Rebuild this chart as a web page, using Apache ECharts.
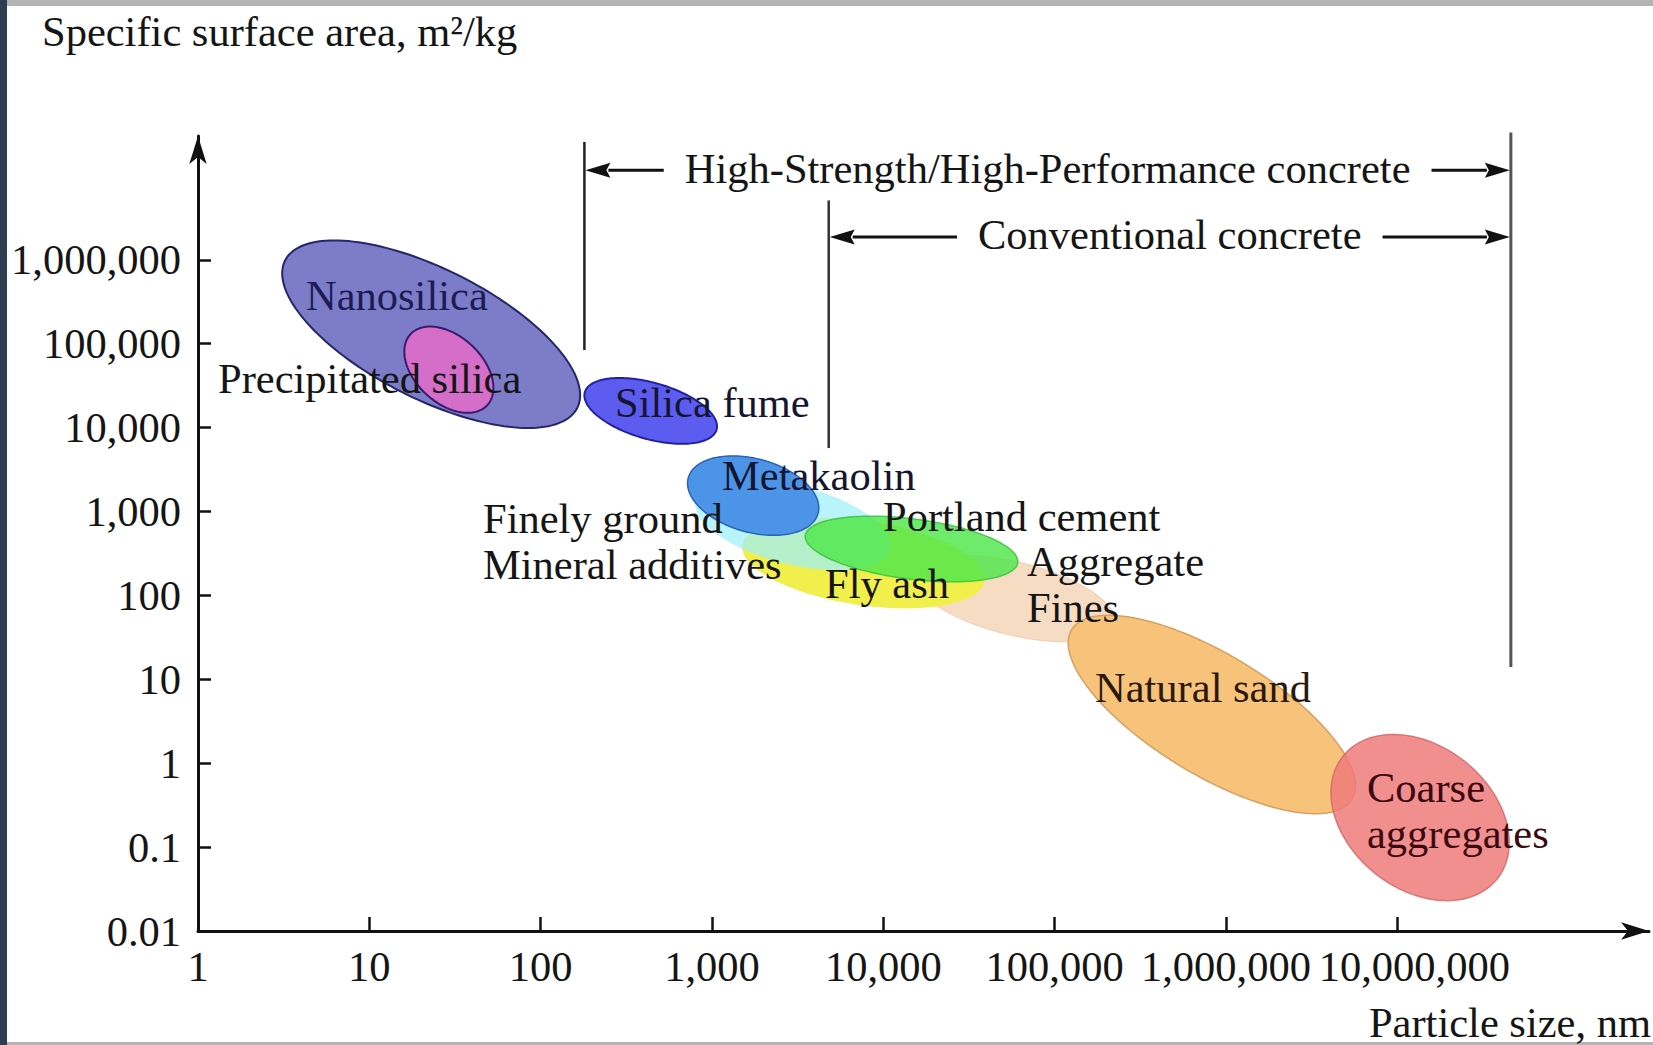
<!DOCTYPE html>
<html>
<head>
<meta charset="utf-8">
<script src="https://cdn.jsdelivr.net/npm/echarts@6/dist/echarts.min.js"></script>
<style>
html,body{margin:0;padding:0;background:#fff;}
#chart{width:1653px;height:1045px;}
</style>
</head>
<body>
<div id="chart"></div>
<script>
// ---------------- data ----------------
// Material regions: particle size range (nm), specific surface area range (m2/kg), tilt (correlation of the region)
const materials = ['Aggregate fines', 'Fly ash', 'Finely ground mineral additives', 'Portland cement', 'Metakaolin',
                   'Nanosilica', 'Precipitated silica', 'Silica fume', 'Natural sand', 'Coarse aggregates'];
const sizeMin = [15000, 1500, 800, 3500, 720, 3.1, 16, 180, 120000, 4.1e6];
const sizeMax = [225000, 39000, 11000, 61000, 4200, 170, 53, 1070, 5.7e6, 4.5e7];
const areaMin = [28, 70, 200, 145, 520, 9900, 15000, 6400, 0.25, 0.023];
const areaMax = [300, 840, 2400, 880, 4600, 1.7e6, 160000, 39000, 58, 2.2];
const tilt    = [-0.5, -0.35, -0.45, -0.38, -0.31, -0.65, -0.42, -0.47, -0.72, -0.3];

// Concrete type ranges of particle size (nm)
const concreteTypes = ['High-Strength/High-Performance concrete', 'Conventional concrete'];
const concreteFrom = [180, 4800];
const concreteTo = [4.6e7, 4.6e7];

// Tick labels
const xTicks = [1, 10, 100, 1000, 1e4, 1e5, 1e6, 1e7];
const yTicks = [0.01, 0.1, 1, 10, 100, 1000, 1e4, 1e5, 1e6];

// ---------------- styles & layout ----------------
const FONT_FAMILY = '"Liberation Serif", "Times New Roman", serif';
const FS = 42.5;
const FONT = FS + 'px ' + FONT_FAMILY;

const regionStyle = {
  'Aggregate fines':                 {fill: '#f7dcc4', stroke: '#f0cfb2', lw: 1, op: 1},
  'Fly ash':                         {fill: '#f1ef4c', stroke: '#f1ef4c', lw: 0, op: 1},
  'Finely ground mineral additives': {fill: '#9ef0fc', stroke: '#9ef0fc', lw: 0, op: 0.72},
  'Portland cement':                 {fill: '#4ee64a', stroke: '#3cbf3c', lw: 1.5, op: 0.82},
  'Metakaolin':                      {fill: '#4c94e8', stroke: '#2a62b6', lw: 1.5, op: 1},
  'Nanosilica':                      {fill: '#7c7cc8', stroke: '#26266a', lw: 2, op: 1},
  'Precipitated silica':             {fill: '#d46ec8', stroke: '#3a1a6a', lw: 2, op: 1},
  'Silica fume':                     {fill: '#5c5cf0', stroke: '#2222a0', lw: 2, op: 1},
  'Natural sand':                    {fill: '#f7c27a', stroke: '#d6a062', lw: 1.5, op: 1},
  'Coarse aggregates':               {fill: '#ef7a7a', stroke: '#d26a6a', lw: 1.5, op: 0.85}
};

// text label layout (pixels): [text, left, centerY, color, lineHeight]
const regionLabels = [
  ['Nanosilica', 306, 295, '#1c1c55', 42],
  ['Precipitated silica', 218, 378, '#151515', 42],
  ['Silica fume', 615, 402, '#151530', 42],
  ['Metakaolin', 722, 475, '#151530', 42],
  ['Finely ground\nMineral additives', 483, 541, '#151515', 46],
  ['Portland cement', 883, 516, '#151515', 40],
  ['Fly ash', 825, 583, '#151515', 42],
  ['Aggregate\nFines', 1027, 584, '#151515', 46],
  ['Natural sand', 1095, 687, '#2a1808', 42],
  ['Coarse\naggregates', 1367, 810, '#3a0a10', 46]
];

// bracket annotation layout in data space (surface area values for the rows / line ends)
const bracketLines = [
  [180, 2.54e7, 84000, '#222', 2.5],
  [4800, 5.1e6, 5700, '#333', 2.5],
  [4.6e7, 3.3e7, 14, '#555', 3]
];
const bracketRows = [1.17e7, 1.87e6];

function fmt(v) {
  const n = Number(Number(v).toPrecision(6));
  if (n >= 1) return String(Math.round(n)).replace(/\B(?=(\d{3})+(?!\d))/g, ',');
  return String(n);
}

const measureCtx = document.createElement('canvas').getContext('2d');
function textWidth(t) { measureCtx.font = FONT; return measureCtx.measureText(t).width; }

function ellipseItem(params, api) {
  const lx0 = Math.log10(api.value(0)), lx1 = Math.log10(api.value(1));
  const ly0 = Math.log10(api.value(2)), ly1 = Math.log10(api.value(3));
  const r = api.value(4);
  const cx = (lx0 + lx1) / 2, cy = (ly0 + ly1) / 2, sx = (lx1 - lx0) / 2, sy = (ly1 - ly0) / 2;
  const q = Math.sqrt(1 - r * r);
  const pts = [];
  const N = 160;
  for (let i = 0; i < N; i++) {
    const t = 2 * Math.PI * i / N;
    const x = cx + sx * Math.cos(t);
    const y = cy + sy * (r * Math.cos(t) + q * Math.sin(t));
    pts.push(api.coord([Math.pow(10, x), Math.pow(10, y)]));
  }
  const st = regionStyle[materials[params.dataIndex]];
  return {
    type: 'polygon',
    shape: {points: pts},
    style: {fill: st.fill, stroke: st.lw ? st.stroke : null, lineWidth: st.lw, opacity: st.op}
  };
}

function lineItem(params, api) {
  const p0 = api.coord([api.value(0), api.value(1)]);
  const p1 = api.coord([api.value(0), api.value(2)]);
  const b = bracketLines[params.dataIndex];
  return {
    type: 'line',
    shape: {x1: p0[0], y1: p0[1], x2: p1[0], y2: p1[1]},
    style: {stroke: b[3], lineWidth: b[4]}
  };
}

function rangeItem(params, api) {
  const p0 = api.coord([api.value(0), api.value(2)]);
  const p1 = api.coord([api.value(1), api.value(2)]);
  const y = p0[1];
  const label = concreteTypes[params.dataIndex];
  const tw = textWidth(label);
  const mid = (p0[0] + p1[0]) / 2;
  const gap = 21, head = 26, hw = 7.5;
  const leftEnd = mid - tw / 2 - gap;
  const rightStart = mid + tw / 2 + gap;
  const lineStyle = {stroke: '#111', lineWidth: 3};
  return {
    type: 'group',
    children: [
      {type: 'line', shape: {x1: p0[0] + head - 2, y1: y, x2: leftEnd, y2: y}, style: lineStyle},
      {type: 'polygon', shape: {points: [[p0[0] + 1, y], [p0[0] + head, y - hw], [p0[0] + head - 4, y], [p0[0] + head, y + hw]]}, style: {fill: '#111'}},
      {type: 'line', shape: {x1: rightStart, y1: y, x2: p1[0] - head + 2, y2: y}, style: lineStyle},
      {type: 'polygon', shape: {points: [[p1[0] - 1, y], [p1[0] - head, y - hw], [p1[0] - head + 4, y], [p1[0] - head, y + hw]]}, style: {fill: '#111'}},
      {type: 'text', style: {text: label, x: mid, y: y - 2, align: 'center', verticalAlign: 'middle', textAlign: 'center', textVerticalAlign: 'middle', font: FONT, fill: '#151515'}}
    ]
  };
}

const chart = echarts.init(document.getElementById('chart'), null, {renderer: 'svg', width: 1653, height: 1045});

const graphics = [
  {type: 'rect', shape: {x: 0, y: 0, width: 1653, height: 6}, style: {fill: '#b4b4b4'}, z: 100},
  {type: 'rect', shape: {x: 0, y: 1042, width: 1653, height: 3}, style: {fill: '#b4b4b4'}, z: 100},
  {type: 'rect', shape: {x: 0, y: 0, width: 7, height: 1045}, style: {fill: '#2d3e52'}, z: 101},
  {type: 'text', x: 42, y: 31, style: {text: 'Specific surface area, m²/kg', font: FONT, fill: '#151515', align: 'left', verticalAlign: 'middle', textAlign: 'left', textVerticalAlign: 'middle'}, z: 100},
  {type: 'text', x: 1651, y: 1022, style: {text: 'Particle size, nm', font: FONT, fill: '#151515', align: 'right', verticalAlign: 'middle', textAlign: 'right', textVerticalAlign: 'middle'}, z: 100}
];
regionLabels.forEach(function (l) {
  graphics.push({type: 'text', x: l[1], y: l[2], style: {text: l[0], font: FONT, lineHeight: l[4], fill: l[3], align: 'left', verticalAlign: 'middle', textAlign: 'left', textVerticalAlign: 'middle'}, z: 100});
});

const axisFont = {fontFamily: FONT_FAMILY, fontSize: FS, color: '#151515'};

chart.setOption({
  backgroundColor: '#ffffff',
  animation: false,
  grid: {left: 198, right: 4, top: 136, bottom: 114, containLabel: false},
  xAxis: {
    type: 'log', logBase: 10, min: 1, max: Math.pow(10, 8.469),
    axisLine: {lineStyle: {color: '#111', width: 3}, symbol: ['none', 'arrow'], symbolSize: [13, 28]},
    axisTick: {show: true, inside: true, length: 14, lineStyle: {color: '#111', width: 2.5}, customValues: xTicks.slice(1)},
    axisLabel: Object.assign({
      customValues: xTicks, margin: 14,
      formatter: function (v) { return Number(Number(v).toPrecision(6)) === 1e7 ? '{s|' + fmt(v) + '}' : fmt(v); },
      rich: {s: {fontFamily: FONT_FAMILY, fontSize: FS, color: '#151515', padding: [0, 0, 0, 34]}}
    }, axisFont),
    splitLine: {show: false}, minorTick: {show: false}
  },
  yAxis: {
    type: 'log', logBase: 10, min: 0.01, max: Math.pow(10, 7.4755),
    axisLine: {lineStyle: {color: '#111', width: 3}, symbol: ['none', 'arrow'], symbolSize: [13, 28]},
    axisTick: {show: true, inside: true, length: 13, lineStyle: {color: '#111', width: 2.5}, customValues: yTicks.slice(1)},
    axisLabel: Object.assign({customValues: yTicks, margin: 17, formatter: fmt}, axisFont),
    splitLine: {show: false}, minorTick: {show: false}
  },
  graphic: graphics,
  series: [
    {
      type: 'custom', name: 'regions', renderItem: ellipseItem,
      dimensions: ['sizeMin', 'sizeMax', 'areaMin', 'areaMax', 'tilt'],
      encode: {x: [0, 1], y: [2, 3]},
      data: materials.map(function (m, i) { return [sizeMin[i], sizeMax[i], areaMin[i], areaMax[i], tilt[i]]; }),
      clip: false, silent: true, z: 2
    },
    {
      type: 'custom', name: 'boundaries', renderItem: lineItem,
      encode: {x: 0, y: [1, 2]},
      data: bracketLines.map(function (b) { return [b[0], b[1], b[2]]; }),
      clip: false, silent: true, z: 3
    },
    {
      type: 'custom', name: 'concrete', renderItem: rangeItem,
      encode: {x: [0, 1], y: 2},
      data: concreteTypes.map(function (c, i) { return [concreteFrom[i], concreteTo[i], bracketRows[i]]; }),
      clip: false, silent: true, z: 4
    }
  ]
});
</script>
</body>
</html>
